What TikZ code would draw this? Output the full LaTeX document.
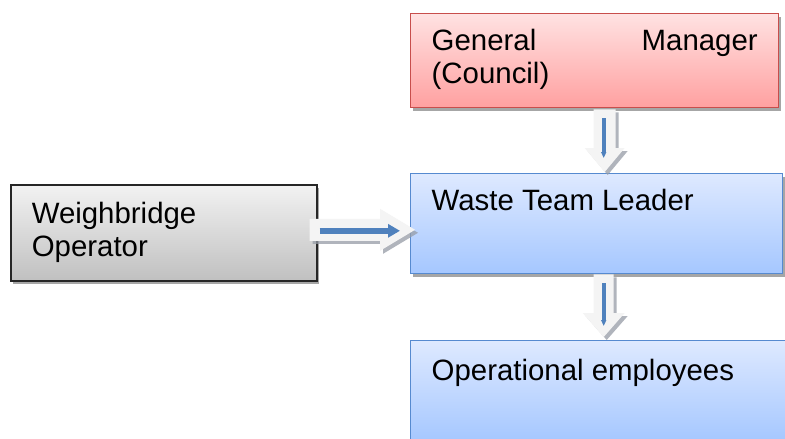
\documentclass[tikz,border=0pt]{standalone}
\usepackage{fontspec}
\setmainfont{Liberation Sans}
\usetikzlibrary{calc,shadows,arrows.meta}

\definecolor{redtop}{RGB}{255,226,226}
\definecolor{redbot}{RGB}{255,160,160}
\definecolor{redline}{RGB}{200,78,76}
\definecolor{bluetop}{RGB}{222,233,255}
\definecolor{bluebot}{RGB}{165,199,255}
\definecolor{blueline}{RGB}{86,138,208}
\definecolor{greytop}{RGB}{242,242,242}
\definecolor{greybot}{RGB}{192,192,192}
\definecolor{arrowblue}{RGB}{79,129,189}
\definecolor{arrowbody}{RGB}{244,244,244}
\definecolor{arrowshade}{RGB}{150,156,166}

\tikzset{
  orgbox/.style={rectangle, inner sep=0pt, anchor=north west, line width=1.4pt,
    drop shadow={shadow xshift=2.5pt, shadow yshift=-3pt, opacity=0.35, fill=black}},
  redbox/.style={orgbox, draw=redline, top color=redtop, bottom color=redbot},
  bluebox/.style={orgbox, draw=blueline, top color=bluetop, bottom color=bluebot},
  greybox/.style={orgbox, draw=black!85, line width=1.6pt, top color=greytop, bottom color=greybot},
  blockshadow/.style={fill=arrowshade, opacity=0.75, transform canvas={shift={(3pt,-3pt)}}},
  blockbody/.style={fill=arrowbody},
  innerline/.style={draw=arrowblue, line width=4.3pt},
}

% Hollow block arrow pointing down: start, tip, half shaft, half head, head length
\newcommand\downblock[5]{%
  \foreach \sty in {blockshadow,blockbody}{%
    \fill[\sty] ($(#1)+(-#3,0)$) -- ($(#2)+(-#3,-#5)$) -- ($(#2)+(-#4,-#5)$)
      -- (#2) -- ($(#2)+(#4,-#5)$) -- ($(#2)+(#3,-#5)$) -- ($(#1)+(#3,0)$) -- cycle;
  }}
% Hollow block arrow pointing right
\newcommand\rightblock[5]{%
  \foreach \sty in {blockshadow,blockbody}{%
    \fill[\sty] ($(#1)+(0,-#3)$) -- ($(#2)+(-#5,-#3)$) -- ($(#2)+(-#5,-#4)$)
      -- (#2) -- ($(#2)+(-#5,#4)$) -- ($(#2)+(-#5,#3)$) -- ($(#1)+(0,#3)$) -- cycle;
  }}

\begin{document}
\begin{tikzpicture}[x=1pt, y=-1pt]
  \useasboundingbox (0,0) rectangle (785,439);
  \fill[white] (0,0) rectangle (785,439);

  \fontsize{29.4}{32.5}\selectfont

  \node[redbox, minimum width=368pt, minimum height=94pt] (gm) at (410,13)
    {\parbox[c][94pt][t]{326pt}{\rule{0pt}{37pt}General\hfill Manager\\(Council)}};
  \node[bluebox, minimum width=372pt, minimum height=100pt] (wtl) at (410,173)
    {\parbox[c][100pt][t]{330pt}{\rule{0pt}{37pt}Waste Team Leader}};
  \node[bluebox, minimum width=390pt, minimum height=101pt] (ops) at (410,340)
    {\parbox[c][101pt][t]{348pt}{\rule{0pt}{40pt}Operational employees}};
  \node[greybox, minimum width=306pt, minimum height=96pt] (wb) at (10,184)
    {\parbox[c][96pt][t]{264pt}{\rule{0pt}{39pt}Weighbridge\\Operator}};

  % connector end points
  \coordinate (d1s) at ($(gm.south)+(10,1)$);
  \coordinate (d1t) at ($(d1s |- wtl.north)+(0,-1)$);
  \coordinate (d2s) at ($(wtl.south)+(7,0)$);
  \coordinate (d2t) at ($(d2s |- ops.north)+(0,-3)$);
  \coordinate (hs)  at ($(wb.east)+(-8,-3)$);
  \coordinate (ht)  at ($(hs -| wtl.west)+(5,0)$);

  \downblock{d1s}{d1t}{11}{20}{24}
  \downblock{d2s}{d2t}{10}{21}{24}
  \rightblock{hs}{ht}{11}{21}{35}

  \draw[innerline, -{Triangle[width=5pt,length=6pt]}]
    ($(d1s)+(-1,9)$) -- ($(d1t)+(-1,-14)$);
  \draw[innerline, -{Triangle[width=5pt,length=6pt]}]
    ($(d2s)+(0,9)$) -- ($(d2t)+(0,-11)$);
  \draw[innerline, line width=6.5pt, -{Triangle[width=13pt,length=12pt]}]
    ($(hs)+(10,1)$) -- ($(ht)+(-15,1)$);
\end{tikzpicture}
\end{document}
